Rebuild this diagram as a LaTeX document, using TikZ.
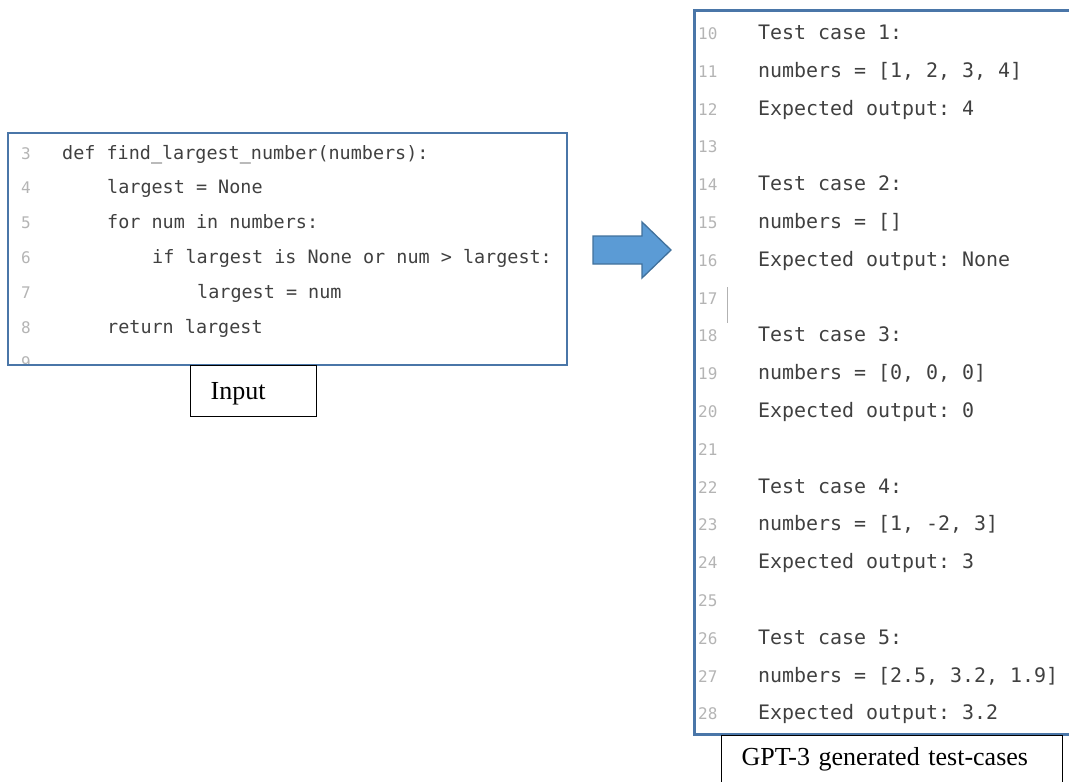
\documentclass[tikz,border=0pt]{standalone}
\usepackage{fontspec}
\setmainfont{Liberation Serif}
\newfontfamily\codefont{DejaVu Sans Mono}
\definecolor{boxblue}{RGB}{74,118,168}
\definecolor{arrowfill}{RGB}{91,155,213}
\definecolor{arrowdraw}{RGB}{65,113,156}
\definecolor{codegray}{RGB}{64,64,64}
\definecolor{numgray}{RGB}{180,180,180}
\frenchspacing
\begin{document}
\begin{tikzpicture}[x=1pt,y=-1pt,
  codebox/.style={draw=boxblue, line width=2.5pt, inner sep=0pt},
  labelbox/.style={draw=black, line width=1.3pt, fill=white, inner xsep=20pt, align=left,
    font=\fontsize{26}{30}\selectfont},
  codeL/.style={anchor=base west, inner sep=0pt, text=codegray, font=\codefont\frenchspacing\fontsize{18.44}{20}\selectfont},
  codeR/.style={anchor=base west, inner sep=0pt, text=codegray, font=\codefont\frenchspacing\fontsize{19.93}{22}\selectfont},
  lineno/.style={anchor=base west, inner sep=0pt, text=numgray, font=\codefont\fontsize{16}{18}\selectfont},
  blockarrow/.style={draw=arrowdraw, fill=arrowfill, line width=1.3pt, line join=miter}]
\useasboundingbox (0,0) rectangle (1069,782);
\clip (0,0) rectangle (1069,782);

% ---------- input code box ----------
\begin{scope}
  \clip (9,134) rectangle (566,364);
  \node[lineno] (n9) at (21,368) {9};
\end{scope}
\node[codebox, minimum width=559pt, minimum height=232pt] (inbox) at (287.5,249) {};
\foreach \n/\x/\t in {3/62/{def find\_largest\_number(numbers):},
                     4/107/{largest = None},
                     5/107/{for num in numbers:},
                     6/152/{if largest is None or num > largest:},
                     7/197/{largest = num},
                     8/107/{return largest}}{
  \pgfmathsetmacro{\yy}{159+34.8*(\n-3)}
  \node[lineno] (n\n) at (21,\yy) {\n};
  \node[codeL] (c\n) at (\x,\yy) {\t};
}
\node[labelbox, text width=86pt, minimum height=51pt, text height=20pt, text depth=3pt,
      anchor=north west] (inlabel) at (190,365) {Input};

% ---------- arrow ----------
\draw[blockarrow] (593,236) -- (642,236) -- (642,222) -- (671,250) -- (642,278)
  -- (642,264) -- (593,264) -- cycle;

% ---------- output box ----------
\node[codebox, minimum width=390pt, minimum height=724pt, anchor=north west] (outbox) at (693,9) {};
\foreach \n/\t in {10/{Test case 1:},11/{numbers = [1, 2, 3, 4]},12/{Expected output: 4},13/{},
                   14/{Test case 2:},15/{numbers = []},16/{Expected output: None},17/{},
                   18/{Test case 3:},19/{numbers = [0, 0, 0]},20/{Expected output: 0},21/{},
                   22/{Test case 4:},23/{numbers = [1, -2, 3]},24/{Expected output: 3},25/{},
                   26/{Test case 5:},27/{numbers = [2.5, 3.2, 1.9]},28/{Expected output: 3.2}}{
  \pgfmathsetmacro{\yy}{39.5+37.8*(\n-10)}
  \node[lineno] (m\n) at (698,\yy) {\n};
  \node[codeR] (t\n) at (758,\yy) {\t};
}
\coordinate (cursortop) at (727,287);
\coordinate (cursorbot) at (727,323);
\draw[gray!60, line width=0.8pt] (cursortop) -- (cursorbot);
\node[labelbox, text width=301pt, minimum height=56pt, text height=18pt, text depth=14pt,
      anchor=north west] (outlabel) at (721,735) {GPT-3 generated test-cases};
\end{tikzpicture}
\end{document}
